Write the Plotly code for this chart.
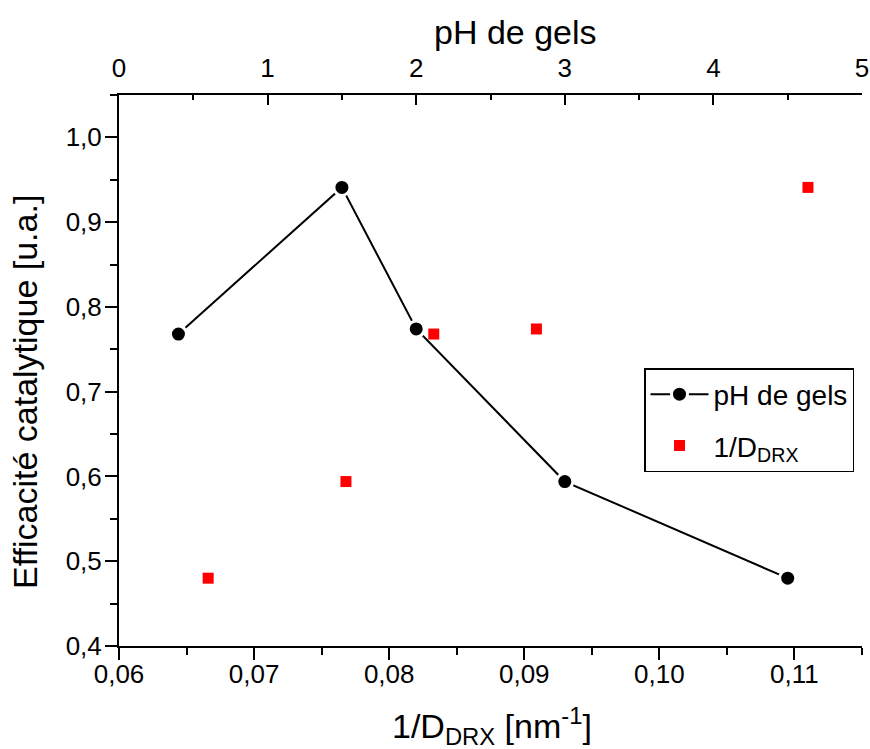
import plotly.graph_objects as go

# Data
ph_values = [0.4, 1.5, 2.0, 3.0, 4.5]
eff_ph = [0.768, 0.941, 0.774, 0.594, 0.480]
inv_d = [0.0666, 0.0768, 0.0833, 0.0909, 0.1110]
eff_d = [0.480, 0.594, 0.768, 0.774, 0.941]

FONT = "Liberation Sans, Arial, sans-serif"

fig = go.Figure()
fig.add_trace(go.Scatter(
    x=ph_values, y=eff_ph, xaxis="x2", yaxis="y",
    mode="lines+markers", name="pH de gels",
    line=dict(color="black", width=2),
    marker=dict(symbol="circle", size=16, color="black",
                line=dict(color="white", width=3)),
    legendgroup="a",
))
fig.add_trace(go.Scatter(
    x=inv_d, y=eff_d, xaxis="x", yaxis="y",
    mode="markers", name="1/D<sub>DRX</sub>",
    marker=dict(symbol="square", size=11, color="#ff0000"),
    legendgroup="b",
))

tickfont = dict(family=FONT, size=26, color="black")

fig.update_layout(
    width=870, height=749,
    margin=dict(l=119, r=8, t=95, b=103, autoexpand=False),
    paper_bgcolor="white", plot_bgcolor="white",
    separators=",.",
    font=dict(family=FONT, color="black"),
    xaxis=dict(
        range=[0.06, 0.115], dtick=0.01, tick0=0.06, tickformat=".2f",
        ticks="outside", ticklen=12, tickwidth=1.5, tickcolor="black",
        minor=dict(dtick=0.005, ticks="outside", ticklen=7, tickwidth=1.5, tickcolor="black"),
        showline=True, linecolor="black", linewidth=2, showgrid=False, zeroline=False,
        tickfont=tickfont, automargin=False, ticklabelstandoff=-8,
    ),
    xaxis2=dict(
        range=[0, 5], dtick=1, tick0=0, overlaying="x", side="top", anchor="y",
        ticks="inside", ticklen=10, tickwidth=1.5, tickcolor="black",
        minor=dict(dtick=0.5, ticks="inside", ticklen=5, tickwidth=1.5, tickcolor="black"),
        showline=True, linecolor="black", linewidth=2, showgrid=False, zeroline=False,
        tickfont=tickfont, ticklabelstandoff=6, automargin=False,
    ),
    yaxis=dict(
        range=[0.4, 1.05], dtick=0.1, tick0=0.4, tickformat=".1f",
        ticks="outside", ticklen=12, tickwidth=1.5, tickcolor="black",
        minor=dict(dtick=0.05, ticks="outside", ticklen=7, tickwidth=1.5, tickcolor="black"),
        showline=True, linecolor="black", linewidth=2, showgrid=False, zeroline=False,
        tickfont=tickfont, automargin=False, ticklabelstandoff=-2,
    ),
    yaxis2=dict(
        range=[0.4, 1.05], dtick=0.1, tick0=0.4, overlaying="y", side="right", anchor="x",
        ticks="inside", ticklen=10, tickwidth=1.5, tickcolor="black",
        minor=dict(dtick=0.05, ticks="inside", ticklen=6, tickwidth=1.5, tickcolor="black"),
        showline=True, linecolor="black", linewidth=2, showgrid=False, zeroline=False,
        showticklabels=False, automargin=False,
    ),
    legend=dict(
        x=(644 - 119) / 743, y=(646 - 368) / 551, xanchor="left", yanchor="top",
        bordercolor="black", borderwidth=1.5, bgcolor="white",
        font=dict(family=FONT, size=28, color="black"),
        traceorder="grouped", tracegroupgap=12, itemwidth=58,
    ),
    annotations=[
        dict(text="Efficacité catalytique [u.a.]", textangle=-90,
             xref="paper", yref="paper", x=(25 - 119) / 743, y=(646 - 392) / 551,
             xanchor="center", yanchor="middle", showarrow=False,
             font=dict(family=FONT, size=34, color="black")),
        dict(text="pH de gels",
             xref="paper", yref="paper", x=(515 - 119) / 743, y=(646 - 32) / 551,
             xanchor="center", yanchor="middle", showarrow=False,
             font=dict(family=FONT, size=34, color="black")),
        dict(text="1/D<sub>DRX</sub> [nm<sup>-1</sup>]",
             xref="paper", yref="paper", x=(492 - 119) / 743, y=(646 - 726) / 551,
             xanchor="center", yanchor="middle", showarrow=False,
             font=dict(family=FONT, size=34, color="black")),
    ],
)

fig.write_html("out.html", config={"displayModeBar": False},
               post_script="document.body.style.margin='0';")
